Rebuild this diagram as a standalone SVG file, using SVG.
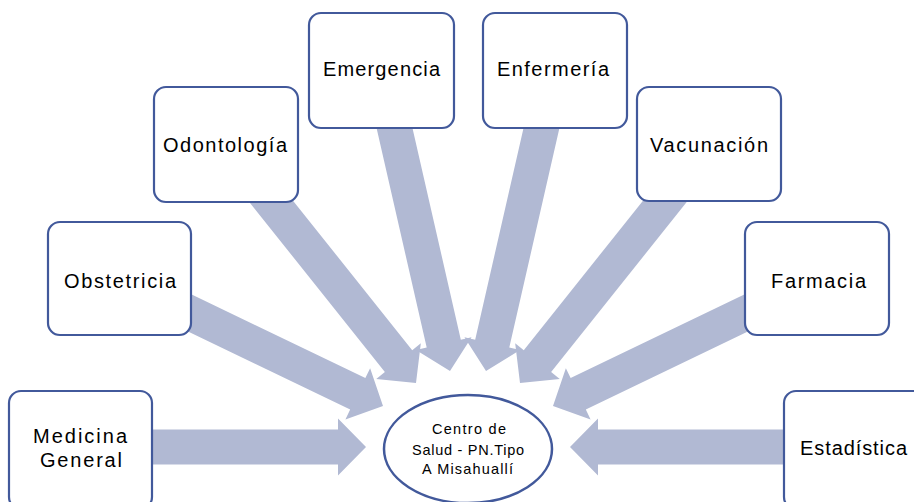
<svg xmlns="http://www.w3.org/2000/svg" width="914" height="502" viewBox="0 0 914 502">
<style>
.box{fill:#ffffff;stroke:#42599b;stroke-width:2.2}
.arr{fill:#b1b9d3}
.t{font-family:"Liberation Sans",Arial,sans-serif;font-size:20px;fill:#000;text-anchor:start}
.c{font-family:"Liberation Sans",Arial,sans-serif;font-size:14.5px;fill:#000}
</style>
<defs>
<polygon id="a" points="-280,-17.5 -28,-17.5 -28,-28.5 0,0 -28,28.5 -28,17.5 -280,17.5"/>
</defs>
<rect width="914" height="502" fill="#ffffff"/>
<g id="connectors">
<use href="#a" class="arr" transform="translate(366,447) rotate(0)"/>
<use href="#a" class="arr" transform="translate(383,406) rotate(25.71)"/>
<use href="#a" class="arr" transform="translate(416,383) rotate(51.43)"/>
<use href="#a" class="arr" transform="translate(450,371) rotate(77.14)"/>
<use href="#a" class="arr" transform="translate(486,371) rotate(102.86)"/>
<use href="#a" class="arr" transform="translate(520,383) rotate(128.57)"/>
<use href="#a" class="arr" transform="translate(553,406) rotate(154.29)"/>
<use href="#a" class="arr" transform="translate(570,447) rotate(180)"/>
</g>
<g id="medicina">
<rect class="box" x="9" y="391" width="143" height="118" rx="12"/>
<text class="t" x="33" y="443" textLength="94" lengthAdjust="spacing">Medicina</text>
<text class="t" x="40" y="467" textLength="82" lengthAdjust="spacing">General</text>
</g>
<g id="obstetricia">
<rect class="box" x="48" y="222" width="143" height="113" rx="12"/>
<text class="t" x="64" y="288" textLength="112" lengthAdjust="spacing">Obstetricia</text>
</g>
<g id="odontologia">
<rect class="box" x="154" y="87" width="144" height="115" rx="12"/>
<text class="t" x="163" y="152" textLength="124" lengthAdjust="spacing">Odontología</text>
</g>
<g id="emergencia">
<rect class="box" x="309" y="13" width="145" height="115" rx="12"/>
<text class="t" x="323" y="76" textLength="117" lengthAdjust="spacing">Emergencia</text>
</g>
<g id="enfermeria">
<rect class="box" x="483" y="13" width="144" height="115" rx="12"/>
<text class="t" x="497" y="76" textLength="112" lengthAdjust="spacing">Enfermería</text>
</g>
<g id="vacunacion">
<rect class="box" x="637" y="87" width="144" height="114" rx="12"/>
<text class="t" x="650" y="152" textLength="118" lengthAdjust="spacing">Vacunación</text>
</g>
<g id="farmacia">
<rect class="box" x="745" y="222" width="144" height="113" rx="12"/>
<text class="t" x="771" y="288" textLength="95" lengthAdjust="spacing">Farmacia</text>
</g>
<g id="estadistica">
<rect class="box" x="784" y="391" width="144" height="118" rx="12"/>
<text class="t" x="800" y="455" textLength="107" lengthAdjust="spacing">Estadística</text>
</g>
<g id="centro">
<ellipse cx="468" cy="449" rx="84" ry="54" fill="#ffffff" stroke="#42599b" stroke-width="2.5"/>
<text class="c" x="432" y="434" textLength="74" lengthAdjust="spacing">Centro de</text>
<text class="c" x="412" y="455" textLength="112" lengthAdjust="spacing">Salud - PN.Tipo</text>
<text class="c" x="422" y="474" textLength="91" lengthAdjust="spacing">A Misahuallí</text>
</g>
</svg>
